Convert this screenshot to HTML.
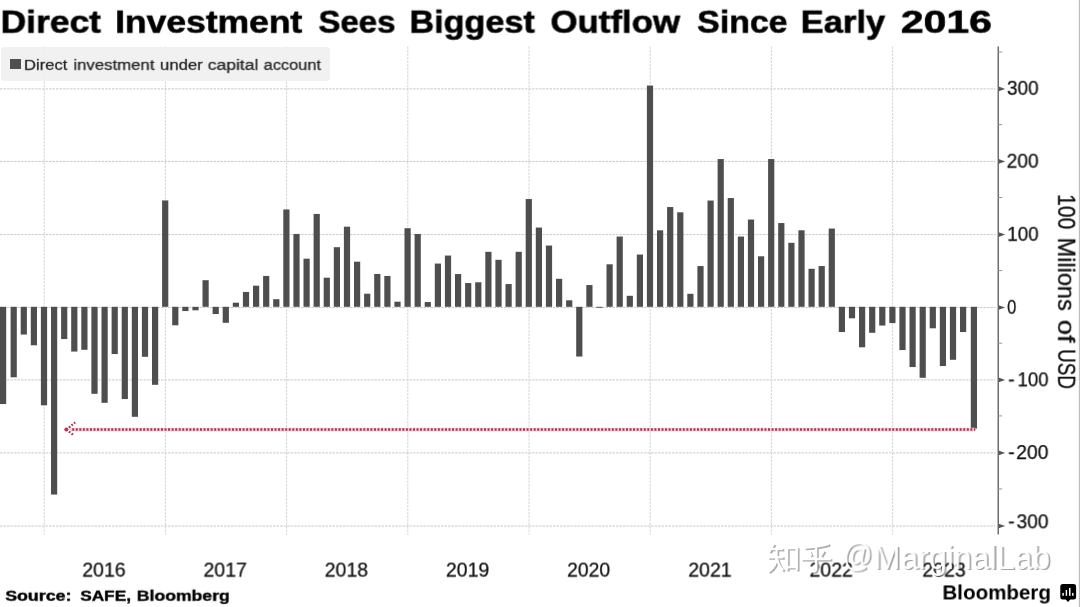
<!DOCTYPE html>
<html><head><meta charset="utf-8">
<style>
html,body{margin:0;padding:0;background:#fff;}
body{width:1080px;height:607px;overflow:hidden;position:relative;font-family:"Liberation Sans",sans-serif;}
.t{position:absolute;white-space:nowrap;font-family:"Liberation Sans",sans-serif;will-change:transform;}
#legend{position:absolute;left:1px;top:47px;width:328.5px;height:34px;background:rgba(240,240,240,0.93);border-radius:3px;}
#lgm{position:absolute;left:10px;top:58.7px;width:10.8px;height:10.3px;background:#505050;}
svg{position:absolute;left:0;top:0;}
#rot{position:absolute;left:1058px;top:0;width:0;height:0;transform-origin:0 0;transform:rotate(90deg);}
</style></head><body>
<svg width="1080" height="607" viewBox="0 0 1080 607">
<g stroke="#cacaca" stroke-width="1" stroke-dasharray="2.5,1" fill="none">
<line x1="0" x2="995.5" y1="88.90" y2="88.90"/>
<line x1="0" x2="995.5" y1="161.40" y2="161.40"/>
<line x1="0" x2="995.5" y1="234.60" y2="234.60"/>
<line x1="0" x2="995.5" y1="307.50" y2="307.50"/>
<line x1="0" x2="995.5" y1="379.90" y2="379.90"/>
<line x1="0" x2="995.5" y1="452.90" y2="452.90"/>
<line x1="0" x2="995.5" y1="526.00" y2="526.00"/>
</g>
<g stroke="#d4d4d4" stroke-width="1" stroke-dasharray="2.5,1" fill="none">
<line x1="44.20" x2="44.20" y1="46.5" y2="534.5"/>
<line x1="165.40" x2="165.40" y1="46.5" y2="534.5"/>
<line x1="286.60" x2="286.60" y1="46.5" y2="534.5"/>
<line x1="407.80" x2="407.80" y1="46.5" y2="534.5"/>
<line x1="529.00" x2="529.00" y1="46.5" y2="534.5"/>
<line x1="650.20" x2="650.20" y1="46.5" y2="534.5"/>
<line x1="771.40" x2="771.40" y1="46.5" y2="534.5"/>
<line x1="892.60" x2="892.60" y1="46.5" y2="534.5"/>
</g>
<g fill="#4e4e4e">
<rect x="0.00" y="306.80" width="6.20" height="97.25"/>
<rect x="10.60" y="306.80" width="6.20" height="70.50"/>
<rect x="20.70" y="306.80" width="6.20" height="27.75"/>
<rect x="30.80" y="306.80" width="6.20" height="38.50"/>
<rect x="40.90" y="306.80" width="6.20" height="98.50"/>
<rect x="51.00" y="306.80" width="6.20" height="187.75"/>
<rect x="61.10" y="306.80" width="6.20" height="32.25"/>
<rect x="71.20" y="306.80" width="6.20" height="44.75"/>
<rect x="81.30" y="306.80" width="6.20" height="43.00"/>
<rect x="91.40" y="306.80" width="6.20" height="87.00"/>
<rect x="101.50" y="306.80" width="6.20" height="96.00"/>
<rect x="111.60" y="306.80" width="6.20" height="47.25"/>
<rect x="121.70" y="306.80" width="6.20" height="92.25"/>
<rect x="131.80" y="306.80" width="6.20" height="110.00"/>
<rect x="141.90" y="306.80" width="6.20" height="50.00"/>
<rect x="152.00" y="306.80" width="6.20" height="78.00"/>
<rect x="162.10" y="200.45" width="6.20" height="106.35"/>
<rect x="172.20" y="306.80" width="6.20" height="18.50"/>
<rect x="182.30" y="306.80" width="6.20" height="4.25"/>
<rect x="192.40" y="306.80" width="6.20" height="3.50"/>
<rect x="202.50" y="280.20" width="6.20" height="26.60"/>
<rect x="212.60" y="306.80" width="6.20" height="7.25"/>
<rect x="222.70" y="306.80" width="6.20" height="16.00"/>
<rect x="232.80" y="302.70" width="6.20" height="4.10"/>
<rect x="242.90" y="291.95" width="6.20" height="14.85"/>
<rect x="253.00" y="285.70" width="6.20" height="21.10"/>
<rect x="263.10" y="275.95" width="6.20" height="30.85"/>
<rect x="273.20" y="299.20" width="6.20" height="7.60"/>
<rect x="283.30" y="209.45" width="6.20" height="97.35"/>
<rect x="293.40" y="233.95" width="6.20" height="72.85"/>
<rect x="303.50" y="258.70" width="6.20" height="48.10"/>
<rect x="313.60" y="213.95" width="6.20" height="92.85"/>
<rect x="323.70" y="277.70" width="6.20" height="29.10"/>
<rect x="333.80" y="247.20" width="6.20" height="59.60"/>
<rect x="343.90" y="226.70" width="6.20" height="80.10"/>
<rect x="354.00" y="261.70" width="6.20" height="45.10"/>
<rect x="364.10" y="293.70" width="6.20" height="13.10"/>
<rect x="374.20" y="273.95" width="6.20" height="32.85"/>
<rect x="384.30" y="275.95" width="6.20" height="30.85"/>
<rect x="394.40" y="301.70" width="6.20" height="5.10"/>
<rect x="404.50" y="228.20" width="6.20" height="78.60"/>
<rect x="414.60" y="233.95" width="6.20" height="72.85"/>
<rect x="424.70" y="302.05" width="6.20" height="4.75"/>
<rect x="434.80" y="263.55" width="6.20" height="43.25"/>
<rect x="444.90" y="255.55" width="6.20" height="51.25"/>
<rect x="455.00" y="274.05" width="6.20" height="32.75"/>
<rect x="465.10" y="283.05" width="6.20" height="23.75"/>
<rect x="475.20" y="282.30" width="6.20" height="24.50"/>
<rect x="485.30" y="251.80" width="6.20" height="55.00"/>
<rect x="495.40" y="259.80" width="6.20" height="47.00"/>
<rect x="505.50" y="284.05" width="6.20" height="22.75"/>
<rect x="515.60" y="251.80" width="6.20" height="55.00"/>
<rect x="525.70" y="199.05" width="6.20" height="107.75"/>
<rect x="535.80" y="227.55" width="6.20" height="79.25"/>
<rect x="545.90" y="245.55" width="6.20" height="61.25"/>
<rect x="556.00" y="278.80" width="6.20" height="28.00"/>
<rect x="566.10" y="300.30" width="6.20" height="6.50"/>
<rect x="576.20" y="306.80" width="6.20" height="49.75"/>
<rect x="586.30" y="285.05" width="6.20" height="21.75"/>
<rect x="596.40" y="306.80" width="6.20" height="0.95"/>
<rect x="606.50" y="264.30" width="6.20" height="42.50"/>
<rect x="616.60" y="236.55" width="6.20" height="70.25"/>
<rect x="626.70" y="295.80" width="6.20" height="11.00"/>
<rect x="636.80" y="254.55" width="6.20" height="52.25"/>
<rect x="646.90" y="85.55" width="6.20" height="221.25"/>
<rect x="657.00" y="230.30" width="6.20" height="76.50"/>
<rect x="667.10" y="207.05" width="6.20" height="99.75"/>
<rect x="677.20" y="212.30" width="6.20" height="94.50"/>
<rect x="687.30" y="293.80" width="6.20" height="13.00"/>
<rect x="697.40" y="266.05" width="6.20" height="40.75"/>
<rect x="707.50" y="200.55" width="6.20" height="106.25"/>
<rect x="717.60" y="159.05" width="6.20" height="147.75"/>
<rect x="727.70" y="198.05" width="6.20" height="108.75"/>
<rect x="737.80" y="236.55" width="6.20" height="70.25"/>
<rect x="747.90" y="219.55" width="6.20" height="87.25"/>
<rect x="758.00" y="256.30" width="6.20" height="50.50"/>
<rect x="768.10" y="159.05" width="6.20" height="147.75"/>
<rect x="778.20" y="223.05" width="6.20" height="83.75"/>
<rect x="788.30" y="242.80" width="6.20" height="64.00"/>
<rect x="798.40" y="230.30" width="6.20" height="76.50"/>
<rect x="808.50" y="268.80" width="6.20" height="38.00"/>
<rect x="818.60" y="266.05" width="6.20" height="40.75"/>
<rect x="828.70" y="228.55" width="6.20" height="78.25"/>
<rect x="838.80" y="306.80" width="6.20" height="25.25"/>
<rect x="848.90" y="306.80" width="6.20" height="11.50"/>
<rect x="859.00" y="306.80" width="6.20" height="40.50"/>
<rect x="869.10" y="306.80" width="6.20" height="26.00"/>
<rect x="879.20" y="306.80" width="6.20" height="18.75"/>
<rect x="889.30" y="306.80" width="6.20" height="16.25"/>
<rect x="899.40" y="306.80" width="6.20" height="43.25"/>
<rect x="909.50" y="306.80" width="6.20" height="60.25"/>
<rect x="919.60" y="306.80" width="6.20" height="71.00"/>
<rect x="929.70" y="306.80" width="6.20" height="21.50"/>
<rect x="939.80" y="306.80" width="6.20" height="59.25"/>
<rect x="949.90" y="306.80" width="6.20" height="53.00"/>
<rect x="960.00" y="306.80" width="6.20" height="25.25"/>
<rect x="970.80" y="306.80" width="6.20" height="121.75"/>
</g>
<rect x="997.5" y="46.5" width="1.5" height="488" fill="#6e6e6e"/>
<line x1="998" x2="1002.2" y1="52.00" y2="52.00" stroke="#8a8a8a" stroke-width="0.9"/>
<path d="M998.6 86.60 L1005.2 88.90 L998.6 91.20 Z" fill="#555"/>
<line x1="998" x2="1002.2" y1="124.65" y2="124.65" stroke="#8a8a8a" stroke-width="0.9"/>
<path d="M998.6 159.10 L1005.2 161.40 L998.6 163.70 Z" fill="#555"/>
<line x1="998" x2="1002.2" y1="197.50" y2="197.50" stroke="#8a8a8a" stroke-width="0.9"/>
<path d="M998.6 232.30 L1005.2 234.60 L998.6 236.90 Z" fill="#555"/>
<line x1="998" x2="1002.2" y1="270.55" y2="270.55" stroke="#8a8a8a" stroke-width="0.9"/>
<path d="M998.6 305.20 L1005.2 307.50 L998.6 309.80 Z" fill="#555"/>
<line x1="998" x2="1002.2" y1="343.20" y2="343.20" stroke="#8a8a8a" stroke-width="0.9"/>
<path d="M998.6 377.60 L1005.2 379.90 L998.6 382.20 Z" fill="#555"/>
<line x1="998" x2="1002.2" y1="415.90" y2="415.90" stroke="#8a8a8a" stroke-width="0.9"/>
<path d="M998.6 450.60 L1005.2 452.90 L998.6 455.20 Z" fill="#555"/>
<line x1="998" x2="1002.2" y1="488.95" y2="488.95" stroke="#8a8a8a" stroke-width="0.9"/>
<path d="M998.6 523.70 L1005.2 526.00 L998.6 528.30 Z" fill="#555"/>
<line x1="70" x2="975.3" y1="429.6" y2="429.6" stroke="#fbd0da" stroke-width="3.8"/>
<line x1="72.2" x2="975.3" y1="429.6" y2="429.6" stroke="#a8365a" stroke-width="2.5" stroke-dasharray="2,1.55"/>
<g stroke="#b03058" stroke-width="2.2" stroke-dasharray="1.8,1.5" fill="none"><path d="M66.3 429.6 L75.2 422.4"/><path d="M66.3 429.6 L73.6 435.2"/></g>
<circle cx="66.3" cy="429.6" r="2" fill="#c8305a"/>
<rect x="1078" y="0" width="1" height="607" fill="#f4f4f4"/><rect x="1079" y="0" width="1" height="607" fill="#bdbdbd"/>
</svg>
<div id="legend"></div>
<div id="lgm"></div>
<div class="t" style="left:0px;top:3px;font-size:30.7px;line-height:37px;font-weight:bold;color:#000;transform-origin:0 29px;transform:translate(0.63px,0.70px) rotate(0.02deg) scale(1.1543,1.0000);-webkit-text-stroke:0.6px #000;">Direct</div>
<div class="t" style="left:115px;top:3px;font-size:30.7px;line-height:37px;font-weight:bold;color:#000;transform-origin:0 29px;transform:translate(0.13px,0.70px) rotate(0.02deg) scale(1.1550,1.0000);-webkit-text-stroke:0.6px #000;">Investment</div>
<div class="t" style="left:318px;top:3px;font-size:30.7px;line-height:37px;font-weight:bold;color:#000;transform-origin:0 29px;transform:translate(0.56px,0.70px) rotate(0.02deg) scale(1.0733,1.0000);-webkit-text-stroke:0.6px #000;">Sees</div>
<div class="t" style="left:409px;top:3px;font-size:30.7px;line-height:37px;font-weight:bold;color:#000;transform-origin:0 29px;transform:translate(0.45px,0.70px) rotate(0.02deg) scale(1.1138,1.0000);-webkit-text-stroke:0.6px #000;">Biggest</div>
<div class="t" style="left:550px;top:3px;font-size:30.7px;line-height:37px;font-weight:bold;color:#000;transform-origin:0 29px;transform:translate(0.50px,0.70px) rotate(0.02deg) scale(1.1339,1.0000);-webkit-text-stroke:0.6px #000;">Outflow</div>
<div class="t" style="left:697px;top:3px;font-size:30.7px;line-height:37px;font-weight:bold;color:#000;transform-origin:0 29px;transform:translate(0.30px,0.70px) rotate(0.02deg) scale(1.1014,1.0000);-webkit-text-stroke:0.6px #000;">Since</div>
<div class="t" style="left:800px;top:3px;font-size:30.7px;line-height:37px;font-weight:bold;color:#000;transform-origin:0 29px;transform:translate(0.68px,0.70px) rotate(0.02deg) scale(1.1253,1.0000);-webkit-text-stroke:0.6px #000;">Early</div>
<div class="t" style="left:900px;top:3px;font-size:30.7px;line-height:37px;font-weight:bold;color:#000;transform-origin:0 29px;transform:translate(0.87px,0.70px) rotate(0.02deg) scale(1.3324,1.0000);-webkit-text-stroke:0.6px #000;">2016</div>
<div class="t" style="left:23px;top:55px;font-size:14.9px;line-height:18px;font-weight:normal;color:#222;transform-origin:0 14px;transform:translate(0.94px,0.85px) rotate(0.02deg) scale(1.1171,1.0000);-webkit-text-stroke:0.25px #222;">Direct</div>
<div class="t" style="left:73px;top:55px;font-size:14.9px;line-height:18px;font-weight:normal;color:#222;transform-origin:0 14px;transform:translate(0.39px,0.85px) rotate(0.02deg) scale(1.1258,1.0000);-webkit-text-stroke:0.25px #222;">investment</div>
<div class="t" style="left:159px;top:55px;font-size:14.9px;line-height:18px;font-weight:normal;color:#222;transform-origin:0 14px;transform:translate(1.00px,0.85px) rotate(0.02deg) scale(1.1217,1.0000);-webkit-text-stroke:0.25px #222;">under</div>
<div class="t" style="left:207px;top:55px;font-size:14.9px;line-height:18px;font-weight:normal;color:#222;transform-origin:0 14px;transform:translate(0.70px,0.85px) rotate(0.02deg) scale(1.1774,1.0000);-webkit-text-stroke:0.25px #222;">capital</div>
<div class="t" style="left:263px;top:55px;font-size:14.9px;line-height:18px;font-weight:normal;color:#222;transform-origin:0 14px;transform:translate(0.73px,0.85px) rotate(0.02deg) scale(1.0957,1.0000);-webkit-text-stroke:0.25px #222;">account</div>
<div class="t" style="left:1006px;top:75px;font-size:19.4px;line-height:24px;font-weight:normal;color:#111;transform-origin:0 19px;transform:translate(0.93px,0.80px) rotate(0.02deg) scale(0.9832,1.0000);-webkit-text-stroke:0.25px #111;">300</div>
<div class="t" style="left:1006px;top:148px;font-size:19.4px;line-height:24px;font-weight:normal;color:#111;transform-origin:0 19px;transform:translate(0.62px,0.70px) rotate(0.02deg) scale(0.9928,1.0000);-webkit-text-stroke:0.25px #111;">200</div>
<div class="t" style="left:1007px;top:221px;font-size:19.4px;line-height:24px;font-weight:normal;color:#111;transform-origin:0 19px;transform:translate(0.24px,0.80px) rotate(0.02deg) scale(0.9734,1.0000);-webkit-text-stroke:0.25px #111;">100</div>
<div class="t" style="left:1007px;top:294px;font-size:19.4px;line-height:24px;font-weight:normal;color:#111;transform-origin:0 19px;transform:translate(0.09px,0.80px) rotate(0.02deg) scale(0.8543,1.0000);-webkit-text-stroke:0.25px #111;">0</div>
<div class="t" style="left:1008px;top:367px;font-size:19.4px;line-height:24px;font-weight:normal;color:#111;transform-origin:0 19px;transform:translate(0.33px,0.30px) rotate(0.02deg) scale(0.9809,1.0000);-webkit-text-stroke:0.25px #111;">-</div>
<div class="t" style="left:1017px;top:367px;font-size:19.4px;line-height:24px;font-weight:normal;color:#111;transform-origin:0 19px;transform:translate(0.56px,0.30px) rotate(0.02deg) scale(0.9605,1.0000);-webkit-text-stroke:0.25px #111;">100</div>
<div class="t" style="left:1008px;top:440px;font-size:19.4px;line-height:24px;font-weight:normal;color:#111;transform-origin:0 19px;transform:translate(0.33px,0.00px) rotate(0.02deg) scale(0.9809,1.0000);-webkit-text-stroke:0.25px #111;">-</div>
<div class="t" style="left:1016px;top:440px;font-size:19.4px;line-height:24px;font-weight:normal;color:#111;transform-origin:0 19px;transform:translate(0.21px,0.00px) rotate(0.02deg) scale(1.0024,1.0000);-webkit-text-stroke:0.25px #111;">200</div>
<div class="t" style="left:1008px;top:509px;font-size:19.4px;line-height:24px;font-weight:normal;color:#111;transform-origin:0 19px;transform:translate(0.33px,0.30px) rotate(0.02deg) scale(0.9809,1.0000);-webkit-text-stroke:0.25px #111;">-</div>
<div class="t" style="left:1016px;top:509px;font-size:19.4px;line-height:24px;font-weight:normal;color:#111;transform-origin:0 19px;transform:translate(0.52px,0.30px) rotate(0.02deg) scale(0.9927,1.0000);-webkit-text-stroke:0.25px #111;">300</div>
<div class="t" style="left:82px;top:557px;font-size:19.4px;line-height:24px;font-weight:normal;color:#111;transform-origin:0 19px;transform:translate(0.31px,0.60px) rotate(0.02deg) scale(1.0069,1.0000);-webkit-text-stroke:0.25px #111;">2016</div>
<div class="t" style="left:203px;top:557px;font-size:19.4px;line-height:24px;font-weight:normal;color:#111;transform-origin:0 19px;transform:translate(0.51px,0.60px) rotate(0.02deg) scale(1.0069,1.0000);-webkit-text-stroke:0.25px #111;">2017</div>
<div class="t" style="left:324px;top:557px;font-size:19.4px;line-height:24px;font-weight:normal;color:#111;transform-origin:0 19px;transform:translate(0.71px,0.60px) rotate(0.02deg) scale(1.0069,1.0000);-webkit-text-stroke:0.25px #111;">2018</div>
<div class="t" style="left:445px;top:557px;font-size:19.4px;line-height:24px;font-weight:normal;color:#111;transform-origin:0 19px;transform:translate(0.91px,0.60px) rotate(0.02deg) scale(1.0069,1.0000);-webkit-text-stroke:0.25px #111;">2019</div>
<div class="t" style="left:567px;top:557px;font-size:19.4px;line-height:24px;font-weight:normal;color:#111;transform-origin:0 19px;transform:translate(0.12px,0.60px) rotate(0.02deg) scale(0.9996,1.0000);-webkit-text-stroke:0.25px #111;">2020</div>
<div class="t" style="left:688px;top:557px;font-size:19.4px;line-height:24px;font-weight:normal;color:#111;transform-origin:0 19px;transform:translate(0.31px,0.60px) rotate(0.02deg) scale(1.0069,1.0000);-webkit-text-stroke:0.25px #111;">2021</div>
<div class="t" style="left:809px;top:557px;font-size:19.4px;line-height:24px;font-weight:normal;color:#111;transform-origin:0 19px;transform:translate(0.51px,0.60px) rotate(0.02deg) scale(1.0069,1.0000);-webkit-text-stroke:0.25px #111;">2022</div>
<div class="t" style="left:922px;top:557px;font-size:19.4px;line-height:24px;font-weight:normal;color:#111;transform-origin:0 19px;transform:translate(0.41px,0.60px) rotate(0.02deg) scale(1.0069,1.0000);-webkit-text-stroke:0.25px #111;">2023</div>
<div class="t" style="left:5px;top:585px;font-size:15.3px;line-height:19px;font-weight:bold;color:#000;transform-origin:0 15px;transform:translate(0.25px,0.75px) rotate(0.02deg) scale(1.1619,1.0000);-webkit-text-stroke:0.4px #000;">Source:</div>
<div class="t" style="left:80px;top:585px;font-size:15.3px;line-height:19px;font-weight:bold;color:#000;transform-origin:0 15px;transform:translate(0.16px,0.75px) rotate(0.02deg) scale(1.1283,1.0000);-webkit-text-stroke:0.4px #000;">SAFE,</div>
<div class="t" style="left:136px;top:585px;font-size:15.3px;line-height:19px;font-weight:bold;color:#000;transform-origin:0 15px;transform:translate(0.73px,0.75px) rotate(0.02deg) scale(1.1525,1.0000);-webkit-text-stroke:0.4px #000;">Bloomberg</div>
<div class="t" style="left:942px;top:579px;font-size:20.9px;line-height:25px;font-weight:bold;color:#000;transform-origin:0 20px;transform:translate(0.41px,0.45px) rotate(0.02deg) scale(0.9845,1.0000);">Bloomberg</div>
<div id="rot">
<div class="t" style="left:194px;top:-20px;font-size:21px;line-height:25px;font-weight:normal;color:#111;transform-origin:0 20px;transform:translate(0.13px,0.00px) rotate(0.02deg) scale(1.0029,1.1603);-webkit-text-stroke:0.3px #111;">100</div>
<div class="t" style="left:237px;top:-20px;font-size:21px;line-height:25px;font-weight:normal;color:#111;transform-origin:0 20px;transform:translate(0.63px,0.00px) rotate(0.02deg) scale(1.1192,1.1603);-webkit-text-stroke:0.3px #111;">Milions</div>
<div class="t" style="left:319px;top:-20px;font-size:21px;line-height:25px;font-weight:normal;color:#111;transform-origin:0 20px;transform:translate(0.84px,0.00px) rotate(0.02deg) scale(1.2943,1.1603);-webkit-text-stroke:0.3px #111;">of</div>
<div class="t" style="left:349px;top:-20px;font-size:21px;line-height:25px;font-weight:normal;color:#111;transform-origin:0 20px;transform:translate(0.16px,0.00px) rotate(0.02deg) scale(0.8944,1.1603);-webkit-text-stroke:0.3px #111;">USD</div>
</div>
<svg style="position:absolute;left:0;top:0" width="1080" height="607" viewBox="0 0 1080 607">
<g fill="none" stroke-linecap="butt" stroke-linejoin="miter" stroke-width="2.3">
<g transform="translate(768.8,544.1)" stroke="#adadad"><path d="M6.5 1 L2 9"/><path d="M4.5 6.2 H15.5"/><path d="M0.5 14.5 H16"/><path d="M9.3 6.2 V14.5 C9.3 21 6 26 1 29"/><path d="M9.8 16 C11 21 13 25 16 27.5"/><path d="M19.8 5.2 H29.6 V27.5 M19.8 5.2 V27.5 M19.8 24.3 H29.6"/>
<g transform="translate(34,0)"><path d="M27.5 1.2 C20 3.5 11 4.6 3 5"/><path d="M7.8 8.5 L10 13"/><path d="M22.5 7.8 L19.5 13"/><path d="M0 16.3 H29.6"/><path d="M14.8 4.5 V26.5 C14.8 28.6 13.2 28.8 10.2 28.3"/></g></g>
<g transform="translate(767.2,542.8)" stroke="#fff"><path d="M6.5 1 L2 9"/><path d="M4.5 6.2 H15.5"/><path d="M0.5 14.5 H16"/><path d="M9.3 6.2 V14.5 C9.3 21 6 26 1 29"/><path d="M9.8 16 C11 21 13 25 16 27.5"/><path d="M19.8 5.2 H29.6 V27.5 M19.8 5.2 V27.5 M19.8 24.3 H29.6"/>
<g transform="translate(34,0)"><path d="M27.5 1.2 C20 3.5 11 4.6 3 5"/><path d="M7.8 8.5 L10 13"/><path d="M22.5 7.8 L19.5 13"/><path d="M0 16.3 H29.6"/><path d="M14.8 4.5 V26.5 C14.8 28.6 13.2 28.8 10.2 28.3"/></g></g>
</g></svg>
<div class="t" style="left:842px;top:535px;font-size:32.9px;line-height:39px;font-weight:normal;color:#fff;transform-origin:0 31px;transform:translate(0.91px,0.40px) rotate(0.02deg) scale(0.8913,1.0000);text-shadow:1.8px 1.4px 0.6px rgba(0,0,0,0.36);">@</div>
<div class="t" style="left:873px;top:538px;font-size:32.9px;line-height:39px;font-weight:normal;color:#fff;transform-origin:0 31px;transform:translate(0.69px,0.00px) rotate(0.02deg) scale(0.9748,1.0000);text-shadow:1.8px 1.4px 0.6px rgba(0,0,0,0.36);">MarginalLab</div>
<svg style="position:absolute;left:0;top:0" width="1080" height="607" viewBox="0 0 1080 607">
<path d="M1062.8 584 h10.8 a2.5 2.5 0 0 1 2.5 2.5 v10.5 a2.5 2.5 0 0 1 -2.5 2.5 h-3.3 l-2.3 2.4 l-2.3 -2.4 h-2.9 a2.5 2.5 0 0 1 -2.5 -2.5 v-10.5 a2.5 2.5 0 0 1 2.5 -2.5 z" fill="#000"/>
<g fill="#fff"><rect x="1062.4" y="592.9" width="1.4" height="2.9"/><rect x="1065.7" y="590" width="1.4" height="5.8"/><rect x="1069" y="587.9" width="1.5" height="7.9"/><rect x="1072.1" y="592.9" width="1.4" height="2.9"/></g>
</svg>
</body></html>
